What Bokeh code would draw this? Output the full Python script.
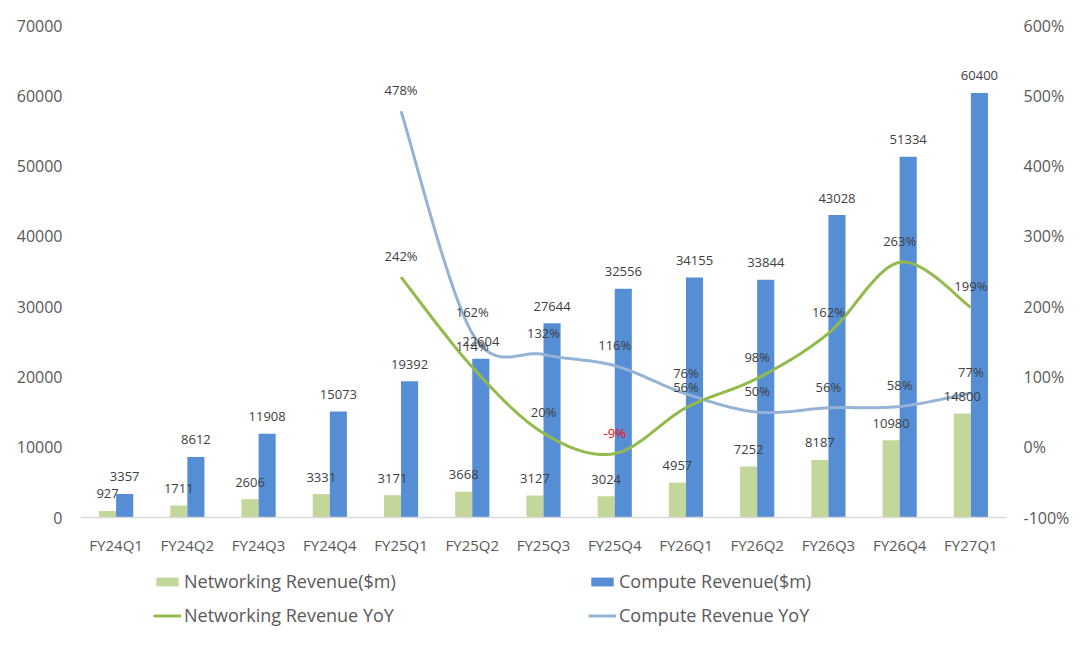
from bokeh.plotting import figure
from bokeh.layouts import column
from bokeh.models import (ColumnDataSource, FactorRange, Range1d, LinearAxis, FixedTicker,
                          PrintfTickFormatter, Legend, LegendItem)
from bokeh.transform import dodge
from bokeh.core.properties import value
from bokeh.embed import file_html
from bokeh.resources import INLINE

# ---------------- data ----------------
categories = ["FY24Q1", "FY24Q2", "FY24Q3", "FY24Q4", "FY25Q1", "FY25Q2", "FY25Q3",
              "FY25Q4", "FY26Q1", "FY26Q2", "FY26Q3", "FY26Q4", "FY27Q1"]
networking_rev = [927, 1711, 2606, 3331, 3171, 3668, 3127, 3024, 4957, 7252, 8187, 10980, 14800]
compute_rev = [3357, 8612, 11908, 15073, 19392, 22604, 27644, 32556, 34155, 33844, 43028, 51334, 60400]
yoy_categories = ["FY25Q1", "FY25Q2", "FY25Q3", "FY25Q4", "FY26Q1", "FY26Q2", "FY26Q3", "FY26Q4", "FY27Q1"]
networking_yoy = [242, 114, 20, -9, 56, 98, 162, 263, 199]
compute_yoy = [478, 162, 132, 116, 76, 50, 56, 58, 77]
left_ticks = [0, 10000, 20000, 30000, 40000, 50000, 60000, 70000]
right_ticks = [-100, 0, 100, 200, 300, 400, 500, 600]

FONT = "Open Sans"
C_NET = "#C4D79B"
C_COMP = "#558ED5"
C_NET_LINE = "#92BA4D"
C_COMP_LINE = "#95B3D7"
TXT = "#404040"
AX = "#595959"


def smooth(xs, ys, n=30):
    """Excel-like smoothed curve (cubic Bezier through the points)."""
    pts = list(zip(xs, ys))
    out_x, out_y = [], []
    m = len(pts)
    for i in range(m - 1):
        p0 = pts[max(i - 1, 0)]
        p1 = pts[i]
        p2 = pts[i + 1]
        p3 = pts[min(i + 2, m - 1)]
        c1 = (p1[0] + (p2[0] - p0[0]) / 6, p1[1] + (p2[1] - p0[1]) / 6)
        c2 = (p2[0] - (p3[0] - p1[0]) / 6, p2[1] - (p3[1] - p1[1]) / 6)
        for k in range(n + (1 if i == m - 2 else 0)):
            t = k / n
            a = (1 - t) ** 3
            b = 3 * (1 - t) ** 2 * t
            c = 3 * (1 - t) * t ** 2
            d = t ** 3
            out_x.append(a * p1[0] + b * c1[0] + c * c2[0] + d * p2[0])
            out_y.append(a * p1[1] + b * c1[1] + c * c2[1] + d * p2[1])
    return out_x, out_y


p = figure(width=1080, height=560, x_range=FactorRange(*categories, range_padding=0),
           y_range=Range1d(0, 70000), output_backend="svg", toolbar_location=None,
           title=None, min_border_left=80, min_border_right=74, min_border_top=25,
           min_border_bottom=43)
p.extra_y_ranges = {"yoy": Range1d(-100, 600)}
p.outline_line_color = None
p.xgrid.visible = False
p.ygrid.visible = False
p.background_fill_color = "white"
p.border_fill_color = "white"

# axes
p.xaxis.axis_line_color = "#D9D9D9"
p.xaxis.axis_line_width = 1.5
p.xaxis.major_tick_line_color = None
p.xaxis.major_tick_out = 0
p.xaxis.major_tick_in = 0
p.xaxis.minor_tick_line_color = None
p.xaxis.major_label_text_font = FONT
p.xaxis.major_label_text_font_size = "15px"
p.xaxis.major_label_text_color = AX
p.xaxis.major_label_standoff = 17

p.yaxis.ticker = FixedTicker(ticks=left_ticks)
p.yaxis.formatter = PrintfTickFormatter(format="%d")
p.yaxis.axis_line_color = None
p.yaxis.major_tick_line_color = None
p.yaxis.major_tick_out = 0
p.yaxis.major_tick_in = 0
p.yaxis.minor_tick_line_color = None
p.yaxis.major_label_text_font = FONT
p.yaxis.major_label_text_font_size = "16px"
p.yaxis.major_label_text_color = AX
p.yaxis.major_label_standoff = 18

ra = LinearAxis(y_range_name="yoy", ticker=FixedTicker(ticks=right_ticks),
                formatter=PrintfTickFormatter(format="%d%%"))
ra.axis_line_color = None
ra.major_tick_line_color = None
ra.major_tick_out = 0
ra.major_tick_in = 0
ra.minor_tick_line_color = None
ra.major_label_text_font = FONT
ra.major_label_text_font_size = "16px"
ra.major_label_text_color = AX
ra.major_label_standoff = 17
p.add_layout(ra, "right")

# bars
src = ColumnDataSource(dict(cat=categories, net=networking_rev, comp=compute_rev,
                            net_lbl=[str(v) for v in networking_rev],
                            comp_lbl=[str(v) for v in compute_rev]))
r_net = p.vbar(x=dodge("cat", -0.12, range=p.x_range), top="net", width=0.24, source=src,
               fill_color=C_NET, line_color=None)
r_comp = p.vbar(x=dodge("cat", 0.12, range=p.x_range), top="comp", width=0.24, source=src,
                fill_color=C_COMP, line_color=None)

# smoothed YoY lines
idx0 = categories.index(yoy_categories[0])
xs_num = [idx0 + i + 0.5 for i in range(len(yoy_categories))]
nx, ny = smooth(xs_num, networking_yoy)
cx, cy = smooth(xs_num, compute_yoy)
p.line(cx, cy, y_range_name="yoy", line_color=C_COMP_LINE, line_width=3)
p.line(nx, ny, y_range_name="yoy", line_color=C_NET_LINE, line_width=3)

# labels
p.text(x=dodge("cat", -0.12, range=p.x_range), y="net", text="net_lbl", source=src,
       text_align="center", text_baseline="middle", y_offset=-17,
       text_font=value(FONT), text_font_size="13px", text_color=TXT)
p.text(x=dodge("cat", 0.12, range=p.x_range), y="comp", text="comp_lbl", source=src,
       text_align="center", text_baseline="middle", y_offset=-17,
       text_font=value(FONT), text_font_size="13px", text_color=TXT)

ysrc = ColumnDataSource(dict(
    cat=yoy_categories + yoy_categories,
    v=compute_yoy + networking_yoy,
    lbl=[f"{v}%" for v in compute_yoy + networking_yoy],
    col=["red" if v < 0 else TXT for v in compute_yoy + networking_yoy]))
p.text(x="cat", y="v", text="lbl", source=ysrc, y_range_name="yoy",
       text_align="center", text_baseline="middle", y_offset=-21,
       text_font=value(FONT), text_font_size="13px", text_color="col")

# ---------------- legend strip ----------------
lg = figure(width=1080, height=87, x_range=Range1d(0, 1), y_range=Range1d(0, 1),
            output_backend="svg", toolbar_location=None, title=None,
            x_axis_type=None, y_axis_type=None, min_border=0)
lg.outline_line_color = None
lg.xgrid.visible = False
lg.ygrid.visible = False
lg.background_fill_color = "white"
lg.border_fill_color = "white"
# stand-in renderers (placed outside the visible range) that only provide legend swatches
e_net = lg.vbar(x=[-5], top=[-5], width=0.1, fill_color=C_NET, line_color=None)
e_comp = lg.vbar(x=[-5], top=[-5], width=0.1, fill_color=C_COMP, line_color=None)
e_nl = lg.line(x=[-5, -4], y=[-5, -5], line_color=C_NET_LINE, line_width=3)
e_cl = lg.line(x=[-5, -4], y=[-5, -5], line_color=C_COMP_LINE, line_width=3)

legend = Legend(items=[
    LegendItem(label="Networking Revenue($m)", renderers=[e_net]),
    LegendItem(label="Networking Revenue YoY", renderers=[e_nl]),
    LegendItem(label="Compute Revenue($m)", renderers=[e_comp]),
    LegendItem(label="Compute Revenue YoY", renderers=[e_cl]),
], orientation="vertical", nrows=2)
legend.glyph_width = 28
legend.glyph_height = 11
legend.label_standoff = 3
legend.label_height = 22
legend.spacing = 10
legend.padding = 0
legend.margin = 0
legend.label_width = 394
legend.border_line_color = None
legend.background_fill_alpha = 0
legend.label_text_font = FONT
legend.label_text_font_size = "18px"
legend.label_text_color = AX
legend.location = (73, 20)
lg.add_layout(legend, "center")

layout = column(p, lg, spacing=0)
open("out.html", "w").write(file_html(layout, INLINE))
